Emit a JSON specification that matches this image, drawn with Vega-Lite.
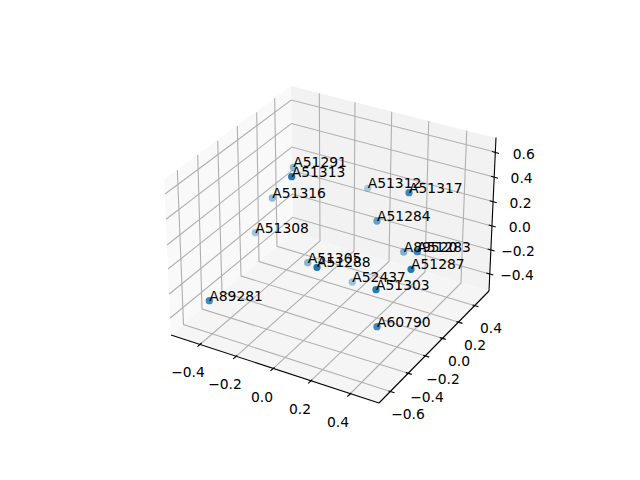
{
"$schema":"https://vega.github.io/schema/vega-lite/v6.json",
"width":640,"height":480,"padding":0,
"autosize":{"type":"fit","contains":"padding"},
"background":"white",
"config":{"view":{"stroke":null},"text":{"font":"DejaVu Sans","fontSize":13.89}},
"encoding":{
"x":{"field":"px","type":"quantitative","scale":{"domain":[0,640],"nice":false,"zero":false},"axis":null},
"y":{"field":"py","type":"quantitative","scale":{"domain":[480,0],"nice":false,"zero":false},"axis":null}
},
"layer":[
{"data":{"values":[
{"pane":"left","px":164,"py":179,"py2":179},{"pane":"left","px":171,"py":174,"py2":335},{"pane":"left","px":291,"py":86,"py2":234.7},{"pane":"left","px":293,"py":233,"py2":233}
]},
"mark":{"type":"area","orient":"vertical","interpolate":"linear","opacity":1,"fillOpacity":1,"color":"#f9f9f9"},
"encoding":{"y2":{"field":"py2"}}},
{"data":{"values":[
{"pane":"back","px":291,"py":86,"py2":86},{"pane":"back","px":293,"py":86.5,"py2":233},{"pane":"back","px":489,"py":136.2,"py2":291},{"pane":"back","px":496,"py":137.5,"py2":137.5}
]},
"mark":{"type":"area","orient":"vertical","interpolate":"linear","opacity":1,"fillOpacity":1,"color":"#f2f2f2"},
"encoding":{"y2":{"field":"py2"}}},
{"data":{"values":[
{"pane":"floor","px":171,"py":335,"py2":335},{"pane":"floor","px":293,"py":233,"py2":374.7},{"pane":"floor","px":379,"py":258.5,"py2":403},{"pane":"floor","px":489,"py":291,"py2":291}
]},
"mark":{"type":"area","orient":"vertical","interpolate":"linear","opacity":1,"fillOpacity":1,"color":"#f5f5f5"},
"encoding":{"y2":{"field":"py2"}}},
{"data":{"values":[
{"id":"gx1","kind":"grid","seq":1,"px":199.3,"py":345},{"id":"gx1","kind":"grid","seq":2,"px":320,"py":241},{"id":"gx1","kind":"grid","seq":3,"px":319.3,"py":93.3},
{"id":"gx2","kind":"grid","seq":1,"px":235,"py":357.3},{"id":"gx2","kind":"grid","seq":2,"px":354,"py":251},{"id":"gx2","kind":"grid","seq":3,"px":355,"py":102.3},
{"id":"gx3","kind":"grid","seq":1,"px":272.3,"py":369.3},{"id":"gx3","kind":"grid","seq":2,"px":389,"py":261.5},{"id":"gx3","kind":"grid","seq":3,"px":391.7,"py":111.7},
{"id":"gx4","kind":"grid","seq":1,"px":310,"py":381.7},{"id":"gx4","kind":"grid","seq":2,"px":425,"py":272},{"id":"gx4","kind":"grid","seq":3,"px":428.7,"py":121},
{"id":"gx5","kind":"grid","seq":1,"px":349,"py":395},{"id":"gx5","kind":"grid","seq":2,"px":461,"py":283},{"id":"gx5","kind":"grid","seq":3,"px":466.7,"py":130.7},
{"id":"gy1","kind":"grid","seq":1,"px":391,"py":391.7},{"id":"gy1","kind":"grid","seq":2,"px":183.5,"py":324.5},{"id":"gy1","kind":"grid","seq":3,"px":177.3,"py":170},
{"id":"gy2","kind":"grid","seq":1,"px":408.3,"py":373.3},{"id":"gy2","kind":"grid","seq":2,"px":202,"py":309},{"id":"gy2","kind":"grid","seq":3,"px":197.7,"py":155},
{"id":"gy3","kind":"grid","seq":1,"px":425.7,"py":356},{"id":"gy3","kind":"grid","seq":2,"px":222,"py":292},{"id":"gy3","kind":"grid","seq":3,"px":217.7,"py":140.7},
{"id":"gy4","kind":"grid","seq":1,"px":442.3,"py":338.3},{"id":"gy4","kind":"grid","seq":2,"px":241,"py":276},{"id":"gy4","kind":"grid","seq":3,"px":237.3,"py":126},
{"id":"gy5","kind":"grid","seq":1,"px":459,"py":322.3},{"id":"gy5","kind":"grid","seq":2,"px":259,"py":261.5},{"id":"gy5","kind":"grid","seq":3,"px":256.7,"py":112.3},
{"id":"gy6","kind":"grid","seq":1,"px":475,"py":305.7},{"id":"gy6","kind":"grid","seq":2,"px":277,"py":246.4},{"id":"gy6","kind":"grid","seq":3,"px":274.7,"py":98.3},
{"id":"gz1","kind":"grid","seq":1,"px":165,"py":194},{"id":"gz1","kind":"grid","seq":2,"px":291.2,"py":100},{"id":"gz1","kind":"grid","seq":3,"px":495,"py":152},
{"id":"gz2","kind":"grid","seq":1,"px":166,"py":219.3},{"id":"gz2","kind":"grid","seq":2,"px":291.5,"py":123.5},{"id":"gz2","kind":"grid","seq":3,"px":494,"py":177},
{"id":"gz3","kind":"grid","seq":1,"px":167,"py":245},{"id":"gz3","kind":"grid","seq":2,"px":291.8,"py":147},{"id":"gz3","kind":"grid","seq":3,"px":492.7,"py":201.5},
{"id":"gz4","kind":"grid","seq":1,"px":168,"py":269},{"id":"gz4","kind":"grid","seq":2,"px":292.1,"py":170.5},{"id":"gz4","kind":"grid","seq":3,"px":491.7,"py":226},
{"id":"gz5","kind":"grid","seq":1,"px":169,"py":294.3},{"id":"gz5","kind":"grid","seq":2,"px":292.4,"py":194},{"id":"gz5","kind":"grid","seq":3,"px":490.7,"py":250},
{"id":"gz6","kind":"grid","seq":1,"px":170,"py":318.3},{"id":"gz6","kind":"grid","seq":2,"px":292.7,"py":217.3},{"id":"gz6","kind":"grid","seq":3,"px":489.3,"py":274},
{"id":"axx","kind":"axis","seq":1,"px":171,"py":335},{"id":"axx","kind":"axis","seq":2,"px":379,"py":403},
{"id":"axy","kind":"axis","seq":1,"px":379,"py":403},{"id":"axy","kind":"axis","seq":2,"px":489,"py":291},
{"id":"axz","kind":"axis","seq":1,"px":489,"py":291},{"id":"axz","kind":"axis","seq":2,"px":496,"py":137.5},
{"id":"tx1","kind":"axis","seq":1,"px":197.5,"py":346.6},{"id":"tx1","kind":"axis","seq":2,"px":201.5,"py":343},
{"id":"tx2","kind":"axis","seq":1,"px":233.2,"py":358.9},{"id":"tx2","kind":"axis","seq":2,"px":237.2,"py":355.3},
{"id":"tx3","kind":"axis","seq":1,"px":270.5,"py":370.9},{"id":"tx3","kind":"axis","seq":2,"px":274.5,"py":367.3},
{"id":"tx4","kind":"axis","seq":1,"px":308.2,"py":383.3},{"id":"tx4","kind":"axis","seq":2,"px":312.2,"py":379.7},
{"id":"tx5","kind":"axis","seq":1,"px":347.2,"py":396.6},{"id":"tx5","kind":"axis","seq":2,"px":351.2,"py":393},
{"id":"ty1","kind":"axis","seq":1,"px":388.5,"py":391},{"id":"ty1","kind":"axis","seq":2,"px":394.5,"py":392.8},
{"id":"ty2","kind":"axis","seq":1,"px":405.8,"py":372.6},{"id":"ty2","kind":"axis","seq":2,"px":411.8,"py":374.4},
{"id":"ty3","kind":"axis","seq":1,"px":423.2,"py":355.3},{"id":"ty3","kind":"axis","seq":2,"px":429.2,"py":357.1},
{"id":"ty4","kind":"axis","seq":1,"px":439.8,"py":337.6},{"id":"ty4","kind":"axis","seq":2,"px":445.8,"py":339.4},
{"id":"ty5","kind":"axis","seq":1,"px":456.5,"py":321.6},{"id":"ty5","kind":"axis","seq":2,"px":462.5,"py":323.4},
{"id":"ty6","kind":"axis","seq":1,"px":472.5,"py":305},{"id":"ty6","kind":"axis","seq":2,"px":478.5,"py":306.8},
{"id":"tz1","kind":"axis","seq":1,"px":492,"py":151.5},{"id":"tz1","kind":"axis","seq":2,"px":499,"py":153.5},
{"id":"tz2","kind":"axis","seq":1,"px":491,"py":176.3},{"id":"tz2","kind":"axis","seq":2,"px":498,"py":178.3},
{"id":"tz3","kind":"axis","seq":1,"px":489.7,"py":200.7},{"id":"tz3","kind":"axis","seq":2,"px":496.7,"py":202.7},
{"id":"tz4","kind":"axis","seq":1,"px":488.7,"py":225},{"id":"tz4","kind":"axis","seq":2,"px":495.7,"py":227},
{"id":"tz5","kind":"axis","seq":1,"px":487.7,"py":249},{"id":"tz5","kind":"axis","seq":2,"px":494.7,"py":251},
{"id":"tz6","kind":"axis","seq":1,"px":486.3,"py":273},{"id":"tz6","kind":"axis","seq":2,"px":493.3,"py":275}
]},
"mark":{"type":"line","strokeWidth":1.11,"interpolate":"linear"},
"encoding":{"detail":{"field":"id"},"order":{"field":"seq","type":"quantitative"},
"color":{"field":"kind","type":"nominal","legend":null,"scale":{"domain":["grid","axis"],"range":["#b0b0b0","#000000"]}}}},
{"data":{"values":[
{"t":"−0.4","px":188,"py":373},{"t":"−0.2","px":225,"py":385},{"t":"0.0","px":262,"py":398},{"t":"0.2","px":300,"py":410},{"t":"0.4","px":338,"py":423},
{"t":"−0.6","px":408,"py":415},{"t":"−0.4","px":427,"py":398},{"t":"−0.2","px":443,"py":380},{"t":"0.0","px":459,"py":362},{"t":"0.2","px":475,"py":346},{"t":"0.4","px":491,"py":329},
{"t":"0.6","px":523.7,"py":155},{"t":"0.4","px":521.6,"py":179},{"t":"0.2","px":520.5,"py":204},{"t":"0.0","px":519.7,"py":228},{"t":"−0.2","px":518,"py":252},{"t":"−0.4","px":517,"py":276}
]},
"mark":{"type":"text","align":"center","baseline":"middle","color":"#000000"},
"encoding":{"text":{"field":"t"}}},
{"data":{"name":"pts","values":[
{"code":"A51291","px":293.3,"py":167.3,"depth":0.3},
{"code":"A51313","px":291.7,"py":176.7,"depth":1},
{"code":"A51316","px":272.3,"py":198,"depth":0.25},
{"code":"A51308","px":255.3,"py":232.7,"depth":0.15},
{"code":"A51312","px":367.7,"py":188.3,"depth":0.05},
{"code":"A51317","px":409,"py":192.7,"depth":0.8},
{"code":"A51284","px":377,"py":221,"depth":0.55},
{"code":"A89520","px":403.7,"py":252,"depth":0.35},
{"code":"A51283","px":417.3,"py":251.7,"depth":0.8},
{"code":"A51305","px":307.7,"py":262.7,"depth":0.3},
{"code":"A51288","px":317,"py":267.3,"depth":1},
{"code":"A89281","px":209.3,"py":300.7,"depth":0.8},
{"code":"A52437","px":352.3,"py":282,"depth":0.15},
{"code":"A51303","px":376,"py":289.7,"depth":0.95},
{"code":"A51287","px":411,"py":269.3,"depth":1},
{"code":"A60790","px":377,"py":326.7,"depth":0.8}
]},
"mark":{"type":"circle","size":53,"color":"#1f77b4"},
"encoding":{"opacity":{"field":"depth","type":"quantitative","legend":null,"scale":{"domain":[0,1],"range":[0.3,1]}}}},
{"data":{"name":"pts"},
"mark":{"type":"text","align":"left","baseline":"alphabetic","color":"#000000"},
"encoding":{"text":{"field":"code"}}}
]
}
